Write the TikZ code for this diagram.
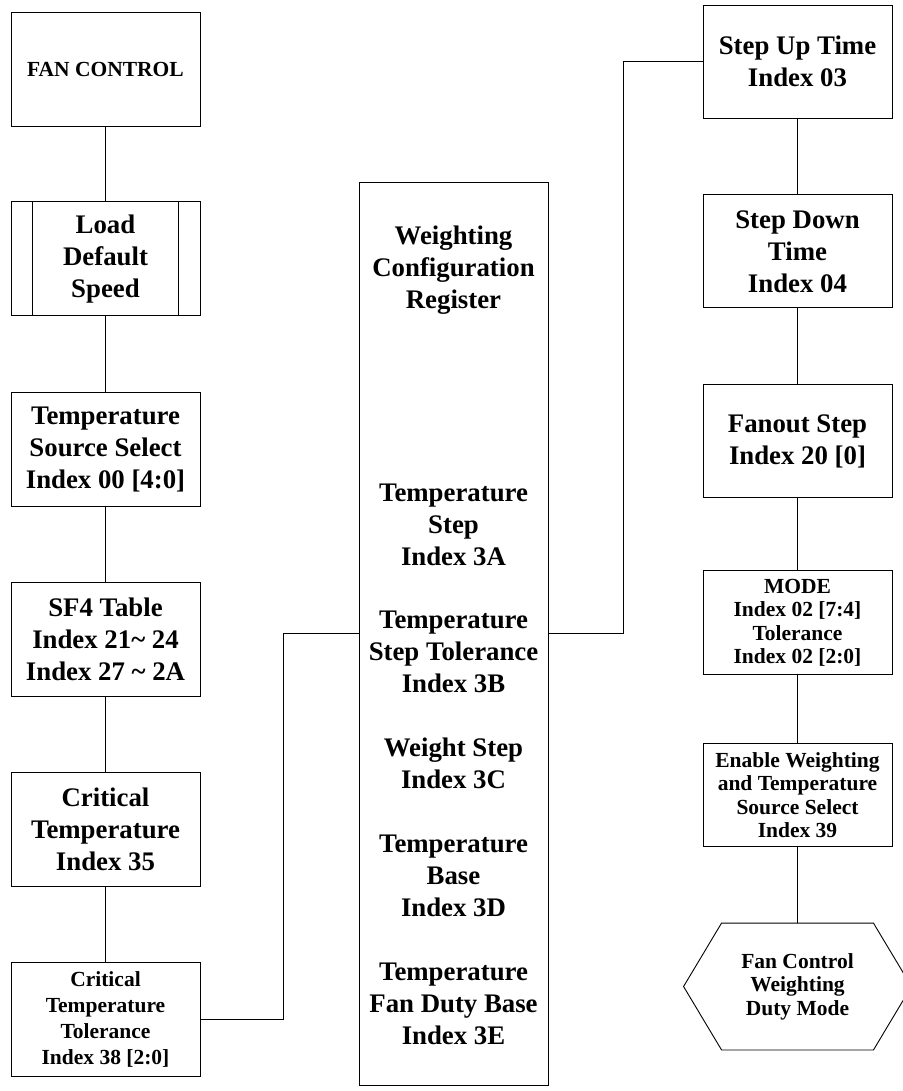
\documentclass[tikz,border=0pt]{standalone}
\usepackage{fontspec}
\setmainfont{Liberation Serif}
\usetikzlibrary{positioning}
\newcommand{\boxfont}{\fontsize{26.8}{32}\selectfont\bfseries}
\newcommand{\tolfont}{\fontsize{21.5}{26}\selectfont\bfseries}
\newcommand{\tightfont}{\fontsize{21.5}{23.5}\selectfont\bfseries}
\tikzset{
    box/.style={
        draw,
        minimum width=189pt,
        minimum height=114pt,
        inner sep=2pt,
        align=center,
        font=\boxfont
    },
    smallbox/.style={box, font=\tightfont},
    tallbox/.style={draw, minimum width=189pt, minimum height=903pt},
    regtext/.style={inner sep=0pt, align=center, font=\boxfont},
    hexbox/.style={minimum width=227pt, minimum height=126pt, inner sep=0pt, align=center, font=\tightfont},
    line/.style={line width=0.9pt}
}

\begin{document}
\begin{tikzpicture}[x=1pt, y=1pt, line width=0.9pt]
\useasboundingbox (0,0) rectangle (902,-1091);

% left column
\node[box, font=\tolfont] (fan) at (105.5,-69) {FAN CONTROL};
\node[box, below=75pt of fan] (load) {Load\\Default\\Speed};
\draw ([xshift=22pt]load.north west) -- ([xshift=22pt]load.south west);
\draw ([xshift=-22pt]load.north east) -- ([xshift=-22pt]load.south east);
\node[box, below=76pt of load] (tss) {Temperature\\Source Select\\Index 00 [4:0]};
\node[box, below=75pt of tss] (sf4) {SF4 Table\\Index 21\char`~{} 24\\Index 27 \char`~{} 2A};
\node[box, below=75pt of sf4] (crit) {Critical\\Temperature\\Index 35};
\node[box, below=75pt of crit, font=\tolfont] (crtol) {Critical\\Temperature\\Tolerance\\Index 38 [2:0]};

% weighting register
\node[tallbox] (wcr) at (453.5,-633.5) {};
\node[regtext, below=44pt of wcr.north] (wcrtext) {Weighting\\Configuration\\Register\\[161pt]
    Temperature\\Step\\Index 3A\\[31pt]
    Temperature\\Step Tolerance\\Index 3B\\[32pt]
    Weight Step\\Index 3C\\[32pt]
    Temperature\\Base\\Index 3D\\[32pt]
    Temperature\\Fan Duty Base\\Index 3E};

% right column
\node[box, minimum height=113pt] (up) at (797.5,-61.5) {Step Up Time\\Index 03};
\node[box, minimum height=113pt, below=76pt of up] (down) {Step Down\\Time\\Index 04};
\node[box, minimum height=113pt, below=76pt of down] (fanout) {Fanout Step\\Index 20 [0]};
\node[smallbox, minimum height=104pt, below=72pt of fanout] (mode) {MODE\\Index 02 [7:4]\\Tolerance\\Index 02 [2:0]};
\node[smallbox, minimum height=103pt, below=68pt of mode] (enable) {Enable Weighting\\and Temperature\\Source Select\\Index 39};
\node[hexbox, below=76pt of enable] (duty) {Fan Control\\Weighting\\Duty Mode};
\draw ([xshift=38pt]duty.north west) -- ([xshift=-38pt]duty.north east) -- (duty.east)
    -- ([xshift=-38pt]duty.south east) -- ([xshift=38pt]duty.south west) -- (duty.west) -- cycle;

\draw[line] (fan) -- (load);
\draw[line] (load) -- (tss);
\draw[line] (tss) -- (sf4);
\draw[line] (sf4) -- (crit);
\draw[line] (crit) -- (crtol);
\draw[line] (crtol.east) -- ++(83,0) |- (wcr.west);
\draw[line] (wcr.east) -- ++(75,0) |- (up.west);
\draw[line] (up) -- (down);
\draw[line] (down) -- (fanout);
\draw[line] (fanout) -- (mode);
\draw[line] (mode) -- (enable);
\draw[line] (enable) -- (duty.north);
\end{tikzpicture}
\end{document}
